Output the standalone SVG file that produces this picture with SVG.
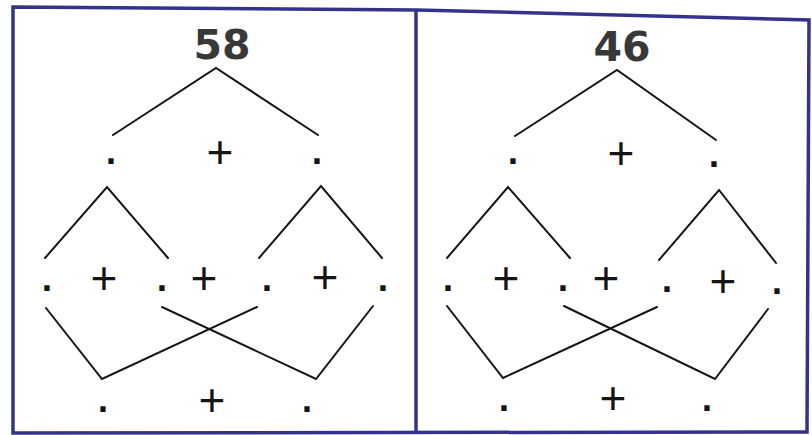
<svg xmlns="http://www.w3.org/2000/svg" width="812" height="435" viewBox="0 0 812 435">
<style>
.frame{fill:none;stroke:#34338a;stroke-width:3.5}
.ln{fill:none;stroke:#151515;stroke-width:2;stroke-linecap:round;stroke-linejoin:miter}
.num{font-family:"DejaVu Sans",Verdana,sans-serif;font-weight:bold;font-size:41px;fill:#383838;text-anchor:middle}
.pl{font-family:"Liberation Sans",Arial,sans-serif;font-size:46px;fill:#151515;text-anchor:middle}
.dt{font-family:"DejaVu Sans",sans-serif;font-weight:bold;font-size:30px;fill:#151515;text-anchor:middle}
</style>
<rect width="812" height="435" fill="#ffffff"/>
<g id="frames">
<path class="frame" d="M13,7 L417,10 L809,20 L807,432 L13,433 Z"/>
<path class="frame" d="M416,10 L416,432"/>
</g>
<g id="connectors">
<polyline class="ln" points="113,135 216,68 318,135"/>
<polyline class="ln" points="45,258 107,187 168,258"/>
<polyline class="ln" points="259,258 321,186 382,258"/>
<polyline class="ln" points="46,308 102,379 257,307"/>
<polyline class="ln" points="162,307 316,379 373,306"/>
<polyline class="ln" points="515,136 617,70 716,140"/>
<polyline class="ln" points="447,258 508,187 570,258"/>
<polyline class="ln" points="659,260 719,190 776,263"/>
<polyline class="ln" points="447,306 503,378 657,307"/>
<polyline class="ln" points="564,306 715,379 768,309"/>
</g>
<g id="panel-left">
<g id="n58"><text class="num" x="222" y="59">58</text></g>
<g id="l1"><text class="dt" x="111" y="164">.</text><text class="pl" x="220" y="168">+</text><text class="dt" x="317" y="164">.</text></g>
<g id="l2"><text class="dt" x="47" y="291">.</text><text class="pl" x="104" y="294">+</text><text class="dt" x="162" y="291">.</text><text class="pl" x="204" y="294">+</text><text class="dt" x="267" y="291">.</text><text class="pl" x="325" y="293">+</text><text class="dt" x="383" y="291">.</text></g>
<g id="l3"><text class="dt" x="103" y="412">.</text><text class="pl" x="212" y="416">+</text><text class="dt" x="307" y="412">.</text></g>
</g>
<g id="panel-right">
<g id="n46"><text class="num" x="622" y="61">46</text></g>
<g id="r1"><text class="dt" x="513" y="164">.</text><text class="pl" x="621" y="169">+</text><text class="dt" x="714" y="167">.</text></g>
<g id="r2"><text class="dt" x="448" y="291">.</text><text class="pl" x="506" y="294">+</text><text class="dt" x="563" y="291">.</text><text class="pl" x="606" y="294">+</text><text class="dt" x="667" y="292">.</text><text class="pl" x="723" y="297">+</text><text class="dt" x="777" y="294">.</text></g>
<g id="r3"><text class="dt" x="504" y="411">.</text><text class="pl" x="613" y="414">+</text><text class="dt" x="707" y="411">.</text></g>
</g>
</svg>
